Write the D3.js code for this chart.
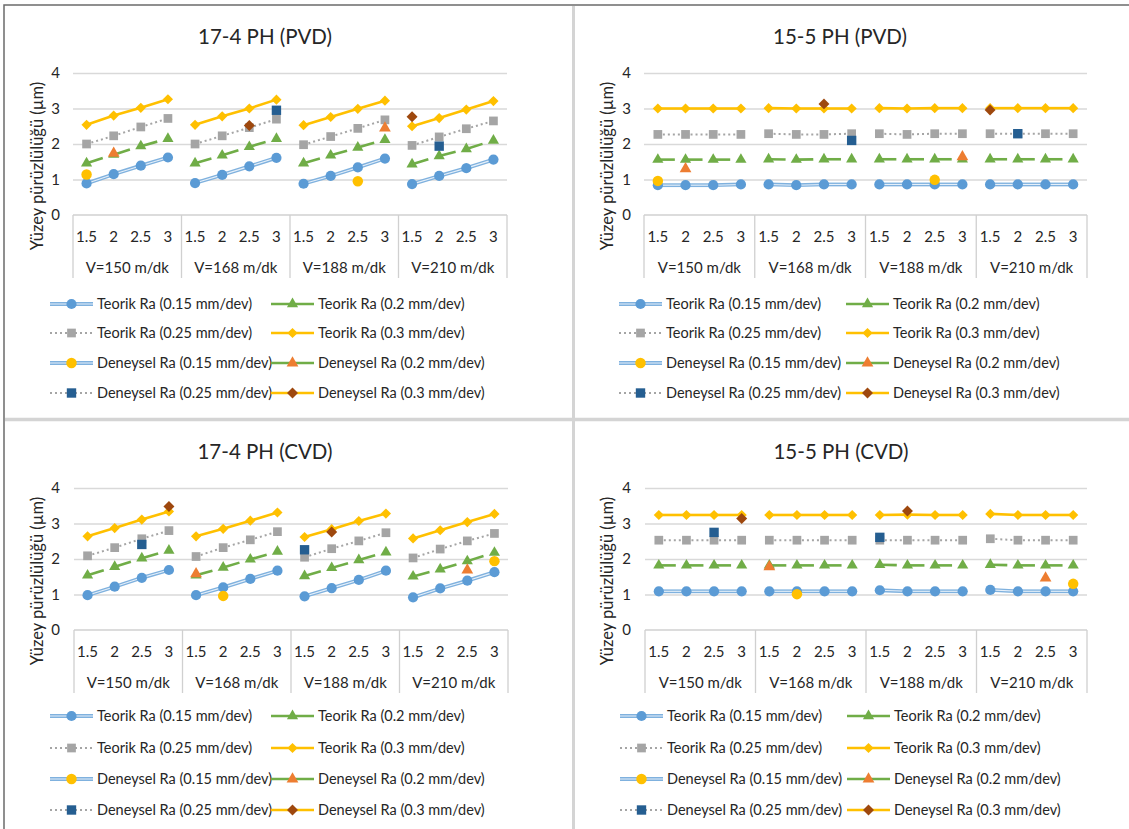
<!DOCTYPE html>
<html>
<head>
<meta charset="utf-8">
<script src="https://cdn.jsdelivr.net/npm/d3@7"></script>
<style>
body { margin: 0; background: #fff; }
text { font-family: Lato, "Open Sans", sans-serif; fill: #262626; }
</style>
</head>
<body>
<script>
var speeds = ["V=150 m/dk", "V=168 m/dk", "V=188 m/dk", "V=210 m/dk"];
var depths = ["1.5", "2", "2.5", "3"];
var titles = ["17-4 PH (PVD)", "15-5 PH (PVD)", "17-4 PH (CVD)", "15-5 PH (CVD)"];
var yTicks = [0, 1, 2, 3, 4];
var yLabel = "Yüzey pürüzlülüğü (µm)";
var names = [
    "Teorik Ra (0.15 mm/dev)", "Teorik Ra (0.2 mm/dev)",
    "Teorik Ra (0.25 mm/dev)", "Teorik Ra (0.3 mm/dev)",
    "Deneysel Ra (0.15 mm/dev)", "Deneysel Ra (0.2 mm/dev)",
    "Deneysel Ra (0.25 mm/dev)", "Deneysel Ra (0.3 mm/dev)"
];

var _ = null;

// 17-4 PH (PVD)
var pvd174Teorik = [
    [0.89, 1.15, 1.39, 1.62, 0.90, 1.13, 1.37, 1.61, 0.88, 1.10, 1.34, 1.59, 0.87, 1.10, 1.32, 1.56],
    [1.46, 1.70, 1.94, 2.15, 1.46, 1.68, 1.92, 2.15, 1.46, 1.68, 1.90, 2.12, 1.43, 1.66, 1.86, 2.10],
    [2.00, 2.23, 2.48, 2.72, 2.00, 2.23, 2.46, 2.70, 1.98, 2.21, 2.44, 2.68, 1.96, 2.20, 2.43, 2.65],
    [2.54, 2.80, 3.02, 3.26, 2.54, 2.78, 3.00, 3.25, 2.53, 2.76, 2.99, 3.22, 2.50, 2.73, 2.97, 3.21]
];
var pvd174Deneysel = [
    [1.14, _, _, _, _, _, _, _, _, _, 0.95, _, _, _, _, _],
    [_, 1.74, _, _, _, _, _, _, _, _, _, 2.45, _, _, _, _],
    [_, _, _, _, _, _, _, 2.95, _, _, _, _, _, 1.94, _, _],
    [_, _, _, _, _, _, 2.52, _, _, _, _, _, 2.77, _, _, _]
];

// 15-5 PH (PVD)
var pvd155Teorik = [
    [0.84, 0.84, 0.84, 0.86, 0.86, 0.84, 0.86, 0.86, 0.86, 0.86, 0.86, 0.86, 0.86, 0.86, 0.86, 0.86],
    [1.56, 1.56, 1.56, 1.56, 1.57, 1.56, 1.57, 1.57, 1.57, 1.57, 1.57, 1.57, 1.57, 1.57, 1.57, 1.57],
    [2.27, 2.27, 2.27, 2.27, 2.29, 2.27, 2.27, 2.29, 2.29, 2.27, 2.29, 2.29, 2.29, 2.29, 2.29, 2.29],
    [3.00, 3.00, 3.00, 3.00, 3.01, 3.00, 3.00, 3.00, 3.01, 3.00, 3.01, 3.01, 3.01, 3.01, 3.01, 3.01]
];
var pvd155Deneysel = [
    [0.96, _, _, _, _, _, _, _, _, _, 0.99, _, _, _, _, _],
    [_, 1.30, _, _, _, _, _, _, _, _, _, 1.64, _, _, _, _],
    [_, _, _, _, _, _, _, 2.10, _, _, _, _, _, 2.29, _, _],
    [_, _, _, _, _, _, 3.13, _, _, _, _, _, 2.96, _, _, _]
];

// 17-4 PH (CVD)
var cvd174Teorik = [
    [0.98, 1.22, 1.47, 1.69, 0.98, 1.20, 1.44, 1.67, 0.95, 1.18, 1.41, 1.67, 0.92, 1.17, 1.39, 1.63],
    [1.54, 1.78, 2.02, 2.24, 1.54, 1.76, 1.99, 2.21, 1.52, 1.75, 1.97, 2.19, 1.51, 1.71, 1.94, 2.18],
    [2.09, 2.32, 2.57, 2.80, 2.07, 2.32, 2.54, 2.77, 2.05, 2.29, 2.51, 2.74, 2.03, 2.28, 2.51, 2.72],
    [2.64, 2.87, 3.11, 3.34, 2.64, 2.85, 3.08, 3.31, 2.62, 2.84, 3.07, 3.28, 2.58, 2.81, 3.04, 3.27]
];
var cvd174Deneysel = [
    [_, _, _, _, _, 0.96, _, _, _, _, _, _, _, _, _, 1.94],
    [_, _, _, _, 1.58, _, _, _, _, _, _, _, _, _, 1.69, _],
    [_, _, 2.41, _, _, _, _, _, 2.26, _, _, _, _, _, _, _],
    [_, _, _, 3.48, _, _, _, _, _, 2.76, _, _, _, _, _, _]
];

// 15-5 PH (CVD)
var cvd155Teorik = [
    [1.09, 1.09, 1.09, 1.09, 1.09, 1.09, 1.09, 1.09, 1.12, 1.09, 1.09, 1.09, 1.13, 1.09, 1.09, 1.09],
    [1.82, 1.82, 1.82, 1.82, 1.82, 1.82, 1.82, 1.82, 1.84, 1.82, 1.82, 1.82, 1.84, 1.82, 1.82, 1.82],
    [2.53, 2.53, 2.53, 2.53, 2.53, 2.53, 2.53, 2.53, 2.53, 2.53, 2.53, 2.53, 2.57, 2.53, 2.53, 2.53],
    [3.24, 3.24, 3.24, 3.24, 3.24, 3.24, 3.24, 3.24, 3.24, 3.25, 3.24, 3.24, 3.27, 3.24, 3.24, 3.24]
];
var cvd155Deneysel = [
    [_, _, _, _, _, 1.01, _, _, _, _, _, _, _, _, _, 1.30],
    [_, _, _, _, 1.78, _, _, _, _, _, _, _, _, _, 1.46, _],
    [_, _, 2.75, _, _, _, _, _, 2.61, _, _, _, _, _, _, _],
    [_, _, _, 3.14, _, _, _, _, _, 3.35, _, _, _, _, _, _]
];

// line/marker look of each series (Teorik 0..3, Deneysel 4..7)
var diamond = {
    draw: function (ctx, size) {
        var r = Math.sqrt(size / 2);
        ctx.moveTo(0, -r); ctx.lineTo(r, 0); ctx.lineTo(0, r); ctx.lineTo(-r, 0); ctx.closePath();
    }
};
var looks = [
    { line: "double", color: "#5B9BD5", type: d3.symbolCircle, size: 82, fill: "#5B9BD5" },
    { line: "dash",   color: "#70AD47", type: d3.symbolTriangle, size: 54, fill: "#70AD47" },
    { line: "dot",    color: "#A5A5A5", type: d3.symbolSquare, size: 76, fill: "#A5A5A5" },
    { line: "solid",  color: "#FFC000", type: diamond, size: 52, fill: "#FFC000" },
    { line: "double", color: "#5B9BD5", type: d3.symbolCircle, size: 86, fill: "#FFC000" },
    { line: "solid",  color: "#70AD47", type: d3.symbolTriangle, size: 60, fill: "#ED7D31" },
    { line: "dot",    color: "#A5A5A5", type: d3.symbolSquare, size: 88, fill: "#255E91" },
    { line: "solid",  color: "#FFC000", type: diamond, size: 60, fill: "#9E480E" }
];

var panels = [
    { title: titles[0], teorik: pvd174Teorik, deneysel: pvd174Deneysel,
      left: 73, right: 507, top: 73, bottom: 215, titleX: 265, titleY: 37, yLabX: 37, tickX: 60,
      legX: [50, 271], legY: [304, 333, 363, 393] },
    { title: titles[1], teorik: pvd155Teorik, deneysel: pvd155Deneysel,
      left: 644, right: 1087, top: 73, bottom: 215, titleX: 840, titleY: 37, yLabX: 607, tickX: 631,
      legX: [619, 846], legY: [304, 333, 363, 393] },
    { title: titles[2], teorik: cvd174Teorik, deneysel: cvd174Deneysel,
      left: 74, right: 508, top: 488, bottom: 630, titleX: 265, titleY: 452, yLabX: 37, tickX: 60,
      legX: [50, 271], legY: [716, 748, 779, 810] },
    { title: titles[3], teorik: cvd155Teorik, deneysel: cvd155Deneysel,
      left: 645, right: 1087, top: 488, bottom: 630, titleX: 841, titleY: 452, yLabX: 607, tickX: 631,
      legX: [620, 847], legY: [716, 748, 779, 810] }
];

var svg = d3.select("body").append("svg")
    .attr("width", 1129)
    .attr("height", 829);

// frames
svg.append("rect").attr("x", 4).attr("y", 5).attr("width", 1140).attr("height", 840)
    .attr("fill", "none").attr("stroke", "#6b6b6b").attr("stroke-width", 1.5);
svg.append("line").attr("x1", 573.5).attr("x2", 573.5).attr("y1", 6).attr("y2", 829)
    .attr("stroke", "#d4d4d4").attr("stroke-width", 3);
svg.append("line").attr("x1", 5).attr("x2", 1129).attr("y1", 419.5).attr("y2", 419.5)
    .attr("stroke", "#d4d4d4").attr("stroke-width", 3.5);

// legend=true draws the dashed look as a plain line, like the reference key
function drawStroke(g, d, look, legend) {
    if (look.line == "double") {
        g.append("path").attr("d", d).attr("fill", "none")
            .attr("stroke", "#7fb1de").attr("stroke-width", 3.8);
        g.append("path").attr("d", d).attr("fill", "none")
            .attr("stroke", "#e6f0fa").attr("stroke-width", 1.1);
    } else {
        var p = g.append("path").attr("d", d).attr("fill", "none")
            .attr("stroke", look.color);
        if (look.line == "dash" && !legend) p.attr("stroke-width", 2.6).attr("stroke-dasharray", "17,200");
        else if (look.line == "dot") p.attr("stroke-width", 2).attr("stroke-dasharray", "2,3");
        else p.attr("stroke-width", 2.6);
    }
}

function drawPanel(p) {
    var g = svg.append("g");
    var x = d3.scaleBand().domain(d3.range(16)).range([p.left, p.right]);
    var xg = d3.scaleBand().domain(d3.range(4)).range([p.left, p.right]);
    var y = d3.scaleLinear().domain([0, 4]).range([p.bottom, p.top]);

    g.append("text").attr("x", p.titleX).attr("y", p.titleY).attr("dy", "0.35em")
        .attr("text-anchor", "middle").style("font-size", "20.5px").text(p.title);

    // gridlines + y labels
    g.append("g").attr("transform", "translate(" + p.left + ",0)")
        .call(d3.axisLeft(y).tickValues(yTicks.slice(1)).tickSize(-(p.right - p.left)).tickFormat(""))
        .call(function (a) {
            a.select(".domain").remove();
            a.selectAll("line").attr("stroke", "#d9d9d9").attr("stroke-width", 1.3);
        });
    g.append("g").attr("transform", "translate(" + p.tickX + ",0)")
        .call(d3.axisLeft(y).tickValues(yTicks).tickSize(0).tickPadding(0).tickFormat(d3.format("d")))
        .call(function (a) {
            a.select(".domain").remove();
            a.selectAll("text").style("font-size", "15px").style("font-family", "Lato, sans-serif")
                .attr("fill", "#404040");
        });

    g.append("text")
        .attr("transform", "translate(" + p.yLabX + "," + ((p.top + p.bottom) / 2 + 22) + ") rotate(-90)")
        .attr("dy", "0.35em").attr("text-anchor", "middle").style("font-size", "16.5px").text(yLabel);

    // category axis: baseline, group separators, labels
    g.append("line").attr("x1", p.left).attr("x2", p.right).attr("y1", p.bottom).attr("y2", p.bottom)
        .attr("stroke", "#d0d0d0").attr("stroke-width", 1.3);
    g.selectAll(".sep").data(d3.range(5)).enter().append("line")
        .attr("x1", function (d) { return d < 4 ? xg(d) : p.right; })
        .attr("x2", function (d) { return d < 4 ? xg(d) : p.right; })
        .attr("y1", p.bottom).attr("y2", p.bottom + 63)
        .attr("stroke", "#d0d0d0").attr("stroke-width", 1.3);
    g.append("g").attr("transform", "translate(0," + (p.bottom + 22) + ")")
        .call(d3.axisBottom(x).tickSize(0).tickPadding(0).tickFormat(function (i) { return depths[i % 4]; }))
        .call(function (a) {
            a.select(".domain").remove();
            a.selectAll("text").attr("dy", "0.35em").style("font-size", "15px")
                .style("font-family", "Lato, sans-serif").attr("fill", "#404040");
        });
    g.selectAll(".grp").data(speeds).enter().append("text")
        .attr("x", function (d, i) { return xg(i) + xg.bandwidth() / 2; })
        .attr("y", p.bottom + 53).attr("dy", "0.35em").attr("text-anchor", "middle")
        .style("font-size", "15px").attr("fill", "#404040").text(function (d) { return d; });

    // series
    var all = p.teorik.concat(p.deneysel);
    var line = d3.line()
        .defined(function (d) { return d.v != null; })
        .x(function (d) { return x(d.i) + x.bandwidth() / 2; })
        .y(function (d) { return y(d.v); });
    all.forEach(function (vals, s) {
        var look = looks[s];
        var pts = vals.map(function (v, i) { return { i: i, v: v }; });
        var sg = g.append("g");
        // one path per pair of neighbours inside a speed group
        d3.range(4).forEach(function (k) {
            for (var j = k * 4; j < k * 4 + 3; j++) {
                if (pts[j].v == null || pts[j + 1].v == null) continue;
                drawStroke(sg, line([pts[j], pts[j + 1]]), look, false);
            }
        });
        sg.selectAll("path.mk").data(pts.filter(function (d) { return d.v != null; }))
            .enter().append("path").attr("class", "mk")
            .attr("transform", function (d) {
                return "translate(" + (x(d.i) + x.bandwidth() / 2) + "," + y(d.v) + ")";
            })
            .attr("d", d3.symbol().type(look.type).size(look.size))
            .attr("fill", look.fill);
    });

    // legend
    names.forEach(function (n, i) {
        var lx = p.legX[i % 2], ly = p.legY[Math.floor(i / 2)];
        var look = looks[i];
        var lg = g.append("g");
        drawStroke(lg, "M" + lx + "," + ly + "H" + (lx + 43), look, true);
        lg.append("path").attr("transform", "translate(" + (lx + 21.5) + "," + ly + ")")
            .attr("d", d3.symbol().type(look.type).size(look.size))
            .attr("fill", look.fill);
        lg.append("text").attr("x", lx + 47).attr("y", ly).attr("dy", "0.35em")
            .style("font-size", "14.5px").attr("fill", "#404040").text(n);
    });
}

panels.forEach(drawPanel);
</script>
</body>
</html>
